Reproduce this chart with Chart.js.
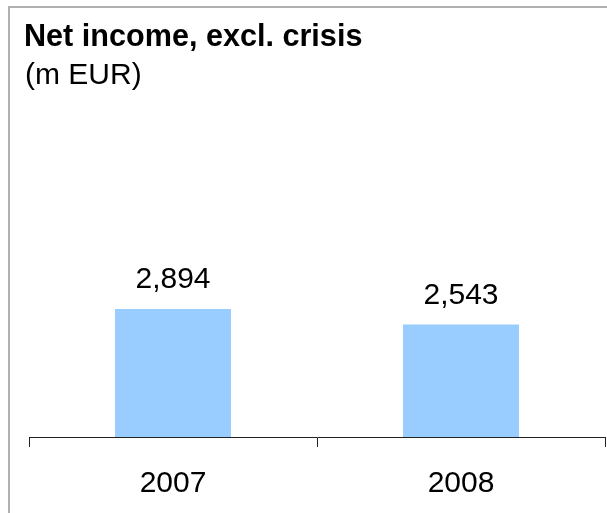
<!DOCTYPE html>
<html>
<head>
<meta charset="utf-8">
<script src="https://cdn.jsdelivr.net/npm/chart.js@4.4.1/dist/chart.umd.min.js"></script>
<style>
    body { margin: 0; background: #fff; }
    #wrap { position: relative; width: 607px; height: 513px; overflow: hidden; }
    #frame { position: absolute; left: 8px; top: 6px; width: 620px; height: 540px;
             border-left: 2px solid #b0b0b0; border-top: 2px solid #b0b0b0; }
    #titulo { position: absolute; left: 24px; top: 18px; font: bold 30.6px Arial, "Liberation Sans", sans-serif; color: #000; white-space: nowrap; }
    #subtitulo { position: absolute; left: 25px; top: 57px; font: 30px Arial, "Liberation Sans", sans-serif; color: #000; white-space: nowrap; }
    #grafico { position: absolute; left: 0; top: 0; }
</style>
</head>
<body>
<div id="wrap">
    <div id="frame"></div>
    <canvas id="grafico" width="607" height="513"></canvas>
    <div id="titulo">Net income, excl. crisis</div>
    <div id="subtitulo">(m EUR)</div>
</div>
<script>
// dados do gráfico
const anos = ['2007', '2008'];
const lucroLiquido = [2894, 2543];

const corBarra = '#99CCFF';
const fonte = 'Arial, "Liberation Sans", sans-serif';

// escreve o valor acima de cada barra
const rotulosValores = {
    id: 'rotulosValores',
    afterDatasetsDraw(chart) {
        const ctx = chart.ctx;
        const meta = chart.getDatasetMeta(0);
        ctx.save();
        ctx.font = '30px ' + fonte;
        ctx.fillStyle = '#000';
        ctx.textAlign = 'center';
        ctx.textBaseline = 'alphabetic';
        meta.data.forEach(function (bar, i) {
            const valor = chart.data.datasets[0].data[i];
            ctx.fillText(valor.toLocaleString('en-US'), bar.x, bar.y - 21);
        });
        ctx.restore();
    }
};

const ctx = document.getElementById('grafico').getContext('2d');
const grafico = new Chart(ctx, {
    type: 'bar',
    data: {
        labels: anos,
        datasets: [{
            label: 'Net income',
            data: lucroLiquido,
            backgroundColor: corBarra,
            borderWidth: 0,
            categoryPercentage: 1,
            barPercentage: 116 / 288
        }]
    },
    options: {
        responsive: false,
        animation: false,
        layout: {
            padding: { top: 127.4, left: 29, right: 2, bottom: 0 }
        },
        plugins: {
            legend: { display: false },
            title: { display: false },
            tooltip: { enabled: false }
        },
        scales: {
            x: {
                afterFit: function (scale) { scale.height = 76; },
                border: { display: true, color: '#222', width: 1 },
                grid: {
                    display: true,
                    offset: true,
                    drawOnChartArea: false,
                    drawTicks: true,
                    tickLength: 10,
                    color: '#222'
                },
                ticks: {
                    color: '#000',
                    padding: 19,
                    font: { size: 30, family: fonte }
                }
            },
            y: {
                display: false,
                min: 0,
                max: 7000
            }
        }
    },
    plugins: [rotulosValores]
});
</script>
</body>
</html>
